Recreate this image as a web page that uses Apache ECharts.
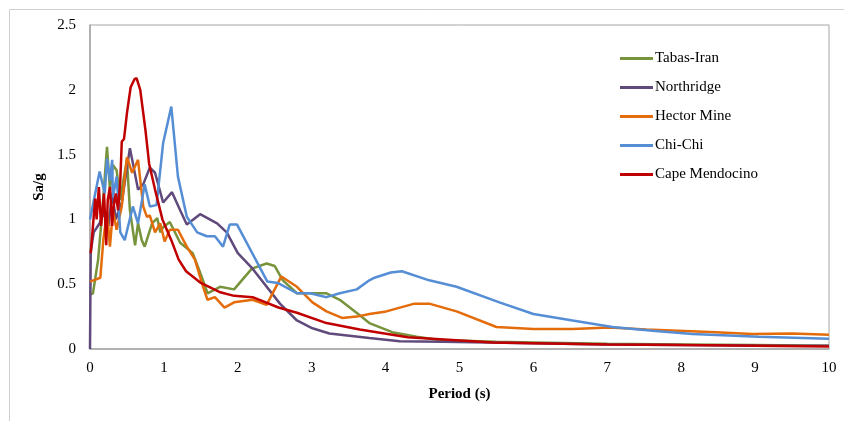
<!DOCTYPE html>
<html>
<head>
<meta charset="utf-8">
<script src="https://cdn.jsdelivr.net/npm/echarts@6/dist/echarts.min.js"></script>
<style>
html,body{margin:0;padding:0;background:#fff;}
#chart{width:844px;height:421px;}
</style>
</head>
<body>
<div id="chart"></div>
<script>
// Data (Period in s, Sa/g)
const seriesNames = ['Tabas-Iran', 'Northridge', 'Hector Mine', 'Chi-Chi', 'Cape Mendocino'];

const tabasT = [0, 0.04, 0.11, 0.16, 0.23, 0.27, 0.31, 0.36, 0.41, 0.43, 0.5, 0.54, 0.61, 0.65, 0.7, 0.74, 0.84, 0.91, 0.95, 0.99, 1.08, 1.22, 1.39, 1.49, 1.59, 1.76, 1.95, 2.19, 2.39, 2.5, 2.61, 2.8, 3.2, 3.38, 3.65, 3.78, 4.09, 4.42, 4.73, 5.5, 6, 7, 8, 9, 10];
const tabasV = [0.42, 0.43, 0.69, 1.02, 1.56, 1.23, 1.42, 1.38, 1.15, 1.23, 1.46, 1.07, 0.8, 0.97, 0.84, 0.79, 0.97, 1.01, 0.9, 0.94, 0.98, 0.82, 0.74, 0.59, 0.43, 0.48, 0.46, 0.62, 0.66, 0.64, 0.53, 0.43, 0.43, 0.38, 0.26, 0.2, 0.13, 0.095, 0.07, 0.055, 0.05, 0.04, 0.035, 0.03, 0.025];

const northT = [0, 0.01, 0.05, 0.13, 0.18, 0.25, 0.3, 0.35, 0.41, 0.43, 0.54, 0.65, 0.72, 0.81, 0.88, 0.99, 1.11, 1.22, 1.31, 1.49, 1.72, 1.85, 2.0, 2.2, 2.57, 2.8, 3.01, 3.24, 3.78, 4.19, 4.77, 6, 7, 8, 9, 10];
const northV = [0, 0.75, 0.9, 0.97, 1.05, 0.95, 1.2, 1.0, 1.1, 1.13, 1.55, 1.23, 1.27, 1.4, 1.36, 1.13, 1.21, 1.07, 0.96, 1.04, 0.97, 0.9, 0.74, 0.62, 0.35, 0.22, 0.16, 0.12, 0.085, 0.06, 0.055, 0.045, 0.035, 0.03, 0.027, 0.025];

const hectorT = [0, 0.14, 0.18, 0.23, 0.27, 0.31, 0.36, 0.43, 0.5, 0.57, 0.65, 0.72, 0.77, 0.81, 0.88, 0.95, 1.01, 1.08, 1.19, 1.31, 1.42, 1.53, 1.59, 1.69, 1.82, 1.95, 2.2, 2.39, 2.59, 2.8, 3.01, 3.2, 3.41, 3.61, 3.78, 4.01, 4.39, 4.59, 4.96, 5.5, 6.0, 6.53, 7.03, 7.53, 8.47, 8.96, 9.5, 10];
const hectorV = [0.52, 0.55, 0.84, 1.06, 0.79, 1.07, 0.92, 1.1, 1.48, 1.36, 1.46, 1.1, 1.02, 1.03, 0.9, 0.97, 0.83, 0.92, 0.92, 0.79, 0.69, 0.48, 0.38, 0.4, 0.32, 0.36, 0.38, 0.34, 0.56, 0.48, 0.36, 0.29, 0.24, 0.25, 0.27, 0.29, 0.35, 0.35, 0.29, 0.17, 0.155, 0.155, 0.165, 0.15, 0.13, 0.115, 0.12, 0.11];

const chichiT = [0, 0.13, 0.2, 0.23, 0.27, 0.3, 0.31, 0.36, 0.41, 0.47, 0.58, 0.65, 0.74, 0.81, 0.9, 0.99, 1.1, 1.19, 1.31, 1.45, 1.58, 1.69, 1.8, 1.89, 1.99, 2.4, 2.54, 2.8, 2.98, 3.2, 3.38, 3.61, 3.78, 3.85, 4.07, 4.22, 4.59, 4.96, 5.54, 6.0, 6.53, 7.07, 7.61, 8.15, 9.05, 10];
const chichiV = [1.0, 1.37, 1.2, 1.47, 1.3, 1.46, 1.17, 1.33, 0.9, 0.84, 1.1, 0.97, 1.27, 1.1, 1.11, 1.59, 1.87, 1.33, 1.02, 0.9, 0.87, 0.87, 0.79, 0.96, 0.96, 0.52, 0.51, 0.43, 0.43, 0.4, 0.43, 0.46, 0.53, 0.55, 0.59, 0.6, 0.53, 0.48, 0.36, 0.27, 0.22, 0.17, 0.14, 0.115, 0.095, 0.08];

const capeT = [0.01, 0.07, 0.09, 0.12, 0.15, 0.19, 0.22, 0.24, 0.27, 0.3, 0.32, 0.35, 0.38, 0.41, 0.43, 0.46, 0.5, 0.55, 0.6, 0.63, 0.68, 0.75, 0.8, 0.88, 0.98, 1.1, 1.2, 1.3, 1.5, 1.75, 1.95, 2.2, 2.55, 2.8, 3.2, 3.65, 4.3, 5.45, 6, 7, 8, 9, 10];
const capeV = [0.74, 1.16, 1.0, 1.25, 0.95, 1.2, 0.8, 1.15, 1.25, 0.95, 1.1, 1.2, 1.07, 1.3, 1.6, 1.62, 1.82, 2.02, 2.08, 2.09, 2.0, 1.69, 1.43, 1.23, 1.0, 0.84, 0.69, 0.6, 0.51, 0.44, 0.41, 0.4, 0.32, 0.28, 0.2, 0.15, 0.09, 0.05, 0.045, 0.035, 0.03, 0.025, 0.02];

const xTicks = [0, 1, 2, 3, 4, 5, 6, 7, 8, 9, 10];
const yTicks = [0, 0.5, 1, 1.5, 2, 2.5];

const colors = ['#77933C', '#604A7B', '#E46C0A', '#558ED5', '#C00000'];
const allT = [tabasT, northT, hectorT, chichiT, capeT];
const allV = [tabasV, northV, hectorV, chichiV, capeV];

function pairs(t, v) { return t.map((x, i) => [x, v[i]]); }

const font = '"Liberation Serif", "Times New Roman", serif';
const chart = echarts.init(document.getElementById('chart'), null, { renderer: 'canvas' });

chart.setOption({
  animation: false,
  backgroundColor: '#fff',
  color: colors,
  graphic: [{
    type: 'rect', left: 7, top: 7, silent: true, z: -1,
    shape: { width: 900, height: 500 },
    style: { fill: 'none', stroke: '#d0d0d0', lineWidth: 1 }
  }],
  grid: {
    left: 90, right: 15, top: 25, bottom: 72,
    show: true, borderColor: '#a6a6a6', borderWidth: 1, backgroundColor: 'transparent'
  },
  legend: {
    orient: 'vertical', left: 615, top: 46,
    icon: 'rect', itemWidth: 33, itemHeight: 3, itemGap: 14,
    textStyle: { fontFamily: font, fontSize: 15, color: '#000', padding: [0, 0, 0, -3] },
    data: seriesNames
  },
  xAxis: {
    type: 'value', min: xTicks[0], max: xTicks[xTicks.length - 1], interval: 1,
    name: 'Period (s)', nameLocation: 'middle', nameGap: 38,
    nameTextStyle: { fontFamily: font, fontSize: 15, fontWeight: 'bold', color: '#000' },
    axisLine: { show: true, lineStyle: { color: '#a6a6a6', width: 1.5 } },
    axisTick: { show: false },
    splitLine: { show: false },
    axisLabel: { fontFamily: font, fontSize: 15, color: '#000', margin: 12 }
  },
  yAxis: {
    type: 'value', min: yTicks[0], max: yTicks[yTicks.length - 1], interval: 0.5,
    name: 'Sa/g', nameLocation: 'middle', nameGap: 36, nameRotate: 90,
    nameTextStyle: { fontFamily: font, fontSize: 15, fontWeight: 'bold', color: '#000' },
    axisLine: { show: true, lineStyle: { color: '#a6a6a6', width: 1.5 } },
    axisTick: { show: false },
    splitLine: { show: false },
    axisLabel: { fontFamily: font, fontSize: 15, color: '#000', margin: 14 }
  },
  series: seriesNames.map((name, i) => ({
    name: name, type: 'line', symbol: 'none', smooth: false,
    data: pairs(allT[i], allV[i]),
    lineStyle: { width: 2.5, color: colors[i] },
    itemStyle: { color: colors[i] },
    z: 2 + i
  }))
});
</script>
</body>
</html>
